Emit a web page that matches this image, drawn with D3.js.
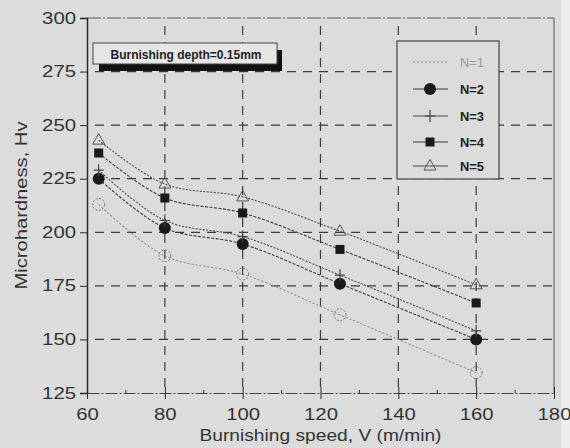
<!DOCTYPE html>
<html>
<head>
  <meta charset="utf-8">
  <title>microhardness</title>
  <style>
    body { margin: 0; background: #dcdcdc; }
    text { font-family: Arial, "Liberation Sans", sans-serif; }
  </style>
</head>
<body>
<script src="https://cdnjs.cloudflare.com/ajax/libs/d3/7.8.5/d3.min.js"></script>
<script>
// speeds (m/min) and microhardness for each number of passes
const speeds = [63, 80, 100, 125, 160];
const n1 = [213, 189, 180.5, 161.5, 134.5];
const n2 = [225, 202, 194.5, 176, 150];
const n3 = [229, 205.5, 198, 180, 154];
const n4 = [237, 216, 209, 192, 167];
const n5 = [243, 222.5, 216.5, 200.5, 175.5];
const seriesNames = ["N=1", "N=2", "N=3", "N=4", "N=5"];
const xTicks = [60, 80, 100, 120, 140, 160, 180];
const yTicks = [125, 150, 175, 200, 225, 250, 275, 300];

const width = 570, height = 448;
const svg = d3.select("body").append("svg")
  .attr("width", width).attr("height", height);

svg.append("rect").attr("width", width).attr("height", height).attr("fill", "#dcdcdc");
// faded strip at the right edge of the scan
svg.append("rect").attr("x", 561).attr("width", 9).attr("height", height).attr("fill", "#eeeeee");

const x = d3.scaleLinear().domain([60, 180]).range([87, 554]);
const y = d3.scaleLinear().domain([125, 300]).range([393, 18]);

const ink = "#2a2a2a";
const font = "Arial, 'Liberation Sans', sans-serif";

// dashed grid
const grid = svg.append("g").attr("stroke", "#3a3a3a").attr("stroke-width", 1.2)
  .attr("stroke-dasharray", "9,7");
grid.selectAll(".vx").data(xTicks.slice(1, -1)).enter().append("line")
  .attr("x1", d => x(d)).attr("x2", d => x(d)).attr("y1", y(300) + 8).attr("y2", y(125));
grid.selectAll(".hy").data(yTicks.slice(1, -1)).enter().append("line")
  .attr("y1", d => y(d)).attr("y2", d => y(d)).attr("x1", x(60) + 8).attr("x2", x(180));

// frame
svg.append("line").attr("x1", x(60)).attr("x2", x(180)).attr("y1", y(300)).attr("y2", y(300))
  .attr("stroke", "#555").attr("stroke-dasharray", "14,2,2,2");
svg.append("line").attr("x1", x(180)).attr("x2", x(180)).attr("y1", y(300)).attr("y2", y(125))
  .attr("stroke", "#555");

// tick labels are a bit wide in the scan
function styleTicks(sel) {
  sel.selectAll(".tick text").attr("font-size", 16).attr("fill", "#333")
    .style("font-family", font)
    .attr("textLength", function () { return this.textContent.length * 11.3; })
    .attr("lengthAdjust", "spacingAndGlyphs");
}

// y axis
const yAxis = d3.axisLeft(y).tickValues(yTicks).tickSize(7).tickPadding(4);
const gy = svg.append("g").attr("transform", `translate(${x(60)},0)`).call(yAxis);
gy.select(".domain").attr("stroke", ink).attr("stroke-width", 1.5);
gy.selectAll(".tick line").attr("stroke", ink);
styleTicks(gy);

// x axis
const xAxis = d3.axisBottom(x).tickValues(xTicks).tickSize(0).tickPadding(16);
const gx = svg.append("g").attr("transform", `translate(0,${y(125)})`).call(xAxis);
gx.select(".domain").attr("stroke", "#444").attr("stroke-dasharray", "12,2,2,2");
styleTicks(gx);
gx.selectAll(".tick").append("line").attr("y1", -6).attr("y2", 6).attr("stroke", ink);
svg.append("g").selectAll("line").data(d3.range(70, 180, 20)).enter().append("line")
  .attr("x1", d => x(d)).attr("x2", d => x(d)).attr("y1", y(125) - 3).attr("y2", y(125))
  .attr("stroke", ink);

// axis titles
svg.append("text").attr("x", x(120)).attr("y", 441).attr("text-anchor", "middle")
  .attr("font-size", 17).attr("fill", "#333")
  .attr("textLength", 242).attr("lengthAdjust", "spacingAndGlyphs")
  .text("Burnishing speed, V (m/min)");
svg.append("text").attr("transform", `translate(27,${y(212.5)}) rotate(-90)`)
  .attr("text-anchor", "middle").attr("font-size", 17).attr("fill", "#333")
  .attr("textLength", 168).attr("lengthAdjust", "spacingAndGlyphs")
  .text("Microhardness, Hv");

// series
const series = [n1, n2, n3, n4, n5].map((vals, i) => ({
  name: seriesNames[i],
  pts: speeds.map((s, j) => ({ x: s, y: vals[j] }))
}));
const styles = [
  { color: "#8a8a8a", dash: "2,2" },
  { color: "#3a3a3a", dash: "3,1.5" },
  { color: "#4a4a4a", dash: "2,1.5" },
  { color: "#3a3a3a", dash: "3,1.5" },
  { color: "#4a4a4a", dash: "2,1.5" }
];
const line = d3.line().x(d => x(d.x)).y(d => y(d.y)).curve(d3.curveCatmullRom.alpha(0.5));

svg.append("g").selectAll("path").data(series).enter().append("path")
  .attr("d", d => line(d.pts)).attr("fill", "none")
  .attr("stroke", (d, i) => styles[i].color).attr("stroke-width", 1.1)
  .attr("stroke-dasharray", (d, i) => styles[i].dash);

function marker(g, i, cx, cy) {
  if (i === 0) {
    g.append("circle").attr("cx", cx).attr("cy", cy).attr("r", 6)
      .attr("fill", "none").attr("stroke", "#777").attr("stroke-dasharray", "2,1.5");
  } else if (i === 1) {
    g.append("circle").attr("cx", cx).attr("cy", cy).attr("r", 6).attr("fill", "#1a1a1a");
  } else if (i === 2) {
    g.append("path").attr("d", `M${cx - 5},${cy}H${cx + 5}M${cx},${cy - 6}V${cy + 6}`)
      .attr("stroke", "#444").attr("stroke-width", 1.2);
  } else if (i === 3) {
    g.append("rect").attr("x", cx - 4.5).attr("y", cy - 4.5).attr("width", 9).attr("height", 9)
      .attr("fill", "#1a1a1a");
  } else {
    g.append("path").attr("d", `M${cx},${cy - 6.5}L${cx + 6},${cy + 4}L${cx - 6},${cy + 4}Z`)
      .attr("fill", "none").attr("stroke", "#555").attr("stroke-width", 1);
  }
}
const mg = svg.append("g");
series.forEach((s, i) => s.pts.forEach(p => marker(mg, i, x(p.x), y(p.y))));

// annotation box with heavy shadow
svg.append("rect").attr("x", 99).attr("y", 50).attr("width", 183).attr("height", 21).attr("fill", "#111");
svg.append("rect").attr("x", 93).attr("y", 43).attr("width", 184).attr("height", 21)
  .attr("fill", "#e6e6e6").attr("stroke", "#444").attr("stroke-width", 1);
svg.append("text").attr("x", 186).attr("y", 58.5).attr("text-anchor", "middle")
  .attr("font-size", 12).attr("font-weight", "bold").attr("fill", "#222")
  .attr("textLength", 151).attr("lengthAdjust", "spacingAndGlyphs")
  .text("Burnishing depth=0.15mm");

// legend
const lg = svg.append("g");
lg.append("rect").attr("x", 397).attr("y", 41).attr("width", 102).attr("height", 138)
  .attr("fill", "#dcdcdc").attr("stroke", "#444").attr("stroke-width", 1.2);
const legendY = [62, 89, 116, 142, 166];
series.forEach((s, i) => {
  const ly = legendY[i];
  lg.append("line").attr("x1", 413).attr("x2", 448).attr("y1", ly).attr("y2", ly)
    .attr("stroke", styles[i].color).attr("stroke-width", 1.1)
    .attr("stroke-dasharray", i === 0 ? "2,2" : null);
  if (i > 0) marker(lg, i, 430, ly);
  lg.append("text").attr("x", 460).attr("y", ly + 4.5).attr("font-size", 12)
    .attr("font-weight", i === 0 ? "normal" : "bold")
    .attr("fill", i === 0 ? "#999" : "#222")
    .attr("textLength", 24).attr("lengthAdjust", "spacingAndGlyphs")
    .text(s.name);
});
</script>
</body>
</html>
